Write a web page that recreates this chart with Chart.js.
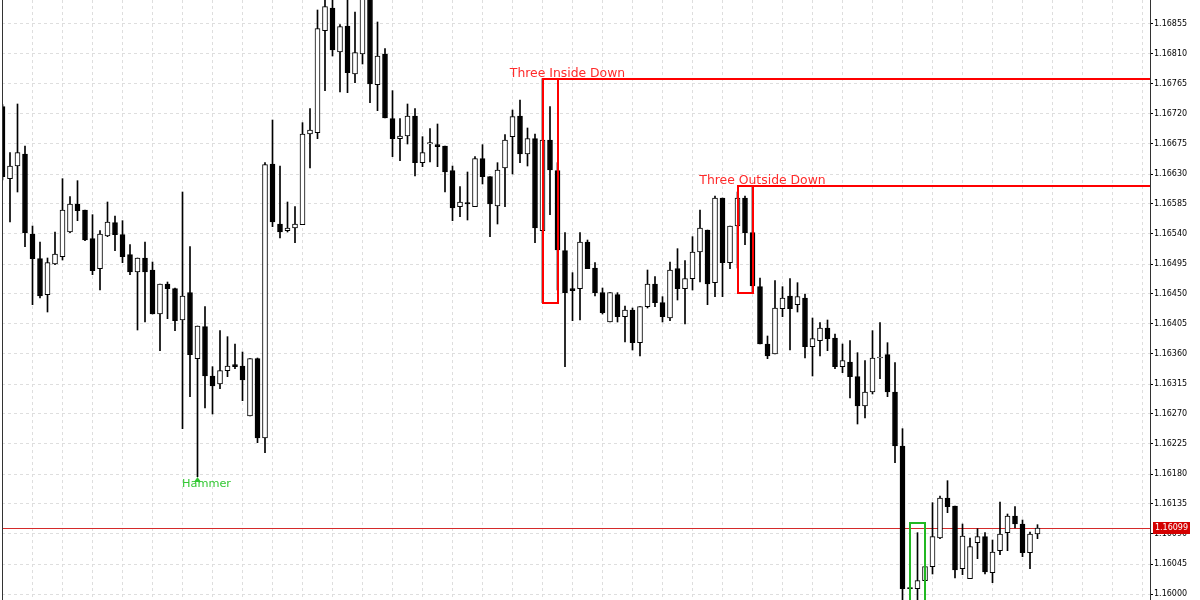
<!DOCTYPE html>
<html>
<head>
<meta charset="utf-8">
<title>EURUSD candles</title>
<script src="https://cdn.jsdelivr.net/npm/chart.js@4.4.0/dist/chart.umd.min.js"></script>
<style>
  body { margin: 0; background: #fff; }
  canvas { display: block; }
</style>
</head>
<body>
<canvas id="chart" width="1200" height="600"></canvas>
<script>
// OHLC per bar, oldest first
const opens = [
  1.16731, 1.16623, 1.16642, 1.16660, 1.16540, 1.16503, 1.16449, 1.16495, 1.16506, 1.16543,
  1.16585, 1.16576, 1.16533, 1.16488, 1.16537, 1.16557, 1.16539, 1.16509, 1.16483, 1.16504,
  1.16486, 1.16420, 1.16465, 1.16458, 1.16411, 1.16452, 1.16353, 1.16401, 1.16327, 1.16315,
  1.16335, 1.16344, 1.16342, 1.16267, 1.16353, 1.16234, 1.16645, 1.16555, 1.16545, 1.16549,
  1.16554, 1.16690, 1.16692, 1.16845, 1.16879, 1.16813, 1.16852, 1.16780, 1.16810, 1.16893,
  1.16764, 1.16810, 1.16713, 1.16683, 1.16687, 1.16717, 1.16647, 1.16675, 1.16674, 1.16672,
  1.16635, 1.16581, 1.16587, 1.16581, 1.16653, 1.16626, 1.16582, 1.16639, 1.16686, 1.16717,
  1.16660, 1.16683, 1.16545, 1.16681, 1.16635, 1.16515, 1.16458, 1.16458, 1.16528, 1.16489,
  1.16452, 1.16408, 1.16449, 1.16416, 1.16426, 1.16377, 1.16431, 1.16465, 1.16437, 1.16414,
  1.16488, 1.16458, 1.16473, 1.16513, 1.16546, 1.16467, 1.16594, 1.16497, 1.16552, 1.16594,
  1.16542, 1.16461, 1.16375, 1.16360, 1.16428, 1.16447, 1.16434, 1.16444, 1.16371, 1.16380,
  1.16399, 1.16384, 1.16341, 1.16348, 1.16326, 1.16282, 1.16303, 1.16354, 1.16359, 1.16303,
  1.16222, 1.16009, 1.16008, 1.16020, 1.16041, 1.16084, 1.16144, 1.16132, 1.16038, 1.16023,
  1.16077, 1.16086, 1.16032, 1.16065, 1.16092, 1.16117, 1.16105, 1.16062, 1.16090
];
const highs = [
  1.16734, 1.16662, 1.16735, 1.16672, 1.16552, 1.16528, 1.16504, 1.16543, 1.16623, 1.16596,
  1.16620, 1.16576, 1.16569, 1.16545, 1.16588, 1.16567, 1.16560, 1.16524, 1.16504, 1.16528,
  1.16498, 1.16465, 1.16468, 1.16459, 1.16603, 1.16521, 1.16402, 1.16431, 1.16341, 1.16395,
  1.16386, 1.16375, 1.16363, 1.16353, 1.16354, 1.16647, 1.16711, 1.16642, 1.16588, 1.16581,
  1.16707, 1.16728, 1.16876, 1.16896, 1.16896, 1.16854, 1.16896, 1.16873, 1.16900, 1.16900,
  1.16858, 1.16818, 1.16755, 1.16713, 1.16735, 1.16728, 1.16686, 1.16698, 1.16705, 1.16672,
  1.16642, 1.16611, 1.16633, 1.16656, 1.16674, 1.16626, 1.16647, 1.16689, 1.16726, 1.16741,
  1.16699, 1.16690, 1.16773, 1.16731, 1.16647, 1.16542, 1.16482, 1.16542, 1.16531, 1.16497,
  1.16459, 1.16452, 1.16452, 1.16432, 1.16429, 1.16431, 1.16486, 1.16476, 1.16446, 1.16498,
  1.16518, 1.16500, 1.16536, 1.16576, 1.16546, 1.16597, 1.16594, 1.16552, 1.16603, 1.16597,
  1.16612, 1.16474, 1.16387, 1.16470, 1.16461, 1.16473, 1.16467, 1.16450, 1.16414, 1.16407,
  1.16411, 1.16390, 1.16375, 1.16380, 1.16362, 1.16350, 1.16395, 1.16407, 1.16377, 1.16347,
  1.16248, 1.16107, 1.16092, 1.16048, 1.16137, 1.16147, 1.16170, 1.16132, 1.16105, 1.16084,
  1.16098, 1.16092, 1.16081, 1.16138, 1.16120, 1.16131, 1.16111, 1.16093, 1.16104
];
const lows = [
  1.16621, 1.16558, 1.16603, 1.16521, 1.16434, 1.16444, 1.16423, 1.16494, 1.16501, 1.16542,
  1.16560, 1.16530, 1.16479, 1.16456, 1.16536, 1.16515, 1.16497, 1.16479, 1.16396, 1.16408,
  1.16420, 1.16365, 1.16413, 1.16395, 1.16248, 1.16296, 1.16176, 1.16279, 1.16270, 1.16308,
  1.16326, 1.16338, 1.16290, 1.16267, 1.16227, 1.16212, 1.16551, 1.16534, 1.16543, 1.16527,
  1.16554, 1.16639, 1.16683, 1.16755, 1.16807, 1.16753, 1.16752, 1.16767, 1.16795, 1.16737,
  1.16725, 1.16714, 1.16656, 1.16650, 1.16675, 1.16627, 1.16641, 1.16648, 1.16641, 1.16603,
  1.16560, 1.16566, 1.16561, 1.16581, 1.16615, 1.16536, 1.16555, 1.16581, 1.16630, 1.16647,
  1.16642, 1.16527, 1.16437, 1.16569, 1.16456, 1.16341, 1.16410, 1.16411, 1.16488, 1.16447,
  1.16420, 1.16408, 1.16408, 1.16378, 1.16366, 1.16357, 1.16429, 1.16431, 1.16408, 1.16410,
  1.16441, 1.16405, 1.16456, 1.16468, 1.16434, 1.16446, 1.16446, 1.16488, 1.16489, 1.16524,
  1.16452, 1.16375, 1.16353, 1.16360, 1.16416, 1.16366, 1.16423, 1.16354, 1.16327, 1.16357,
  1.16365, 1.16338, 1.16332, 1.16294, 1.16255, 1.16264, 1.16300, 1.16323, 1.16296, 1.16197,
  1.15976, 1.15973, 1.15976, 1.15979, 1.16030, 1.16083, 1.16122, 1.16024, 1.16029, 1.16023,
  1.16053, 1.16030, 1.16017, 1.16059, 1.16065, 1.16099, 1.16056, 1.16038, 1.16083
];
const closes = [
  1.16626, 1.16642, 1.16662, 1.16542, 1.16503, 1.16447, 1.16497, 1.16510, 1.16576, 1.16585,
  1.16575, 1.16531, 1.16485, 1.16540, 1.16558, 1.16539, 1.16506, 1.16483, 1.16504, 1.16483,
  1.16420, 1.16465, 1.16458, 1.16410, 1.16447, 1.16359, 1.16402, 1.16327, 1.16312, 1.16335,
  1.16342, 1.16341, 1.16321, 1.16353, 1.16234, 1.16644, 1.16558, 1.16543, 1.16549, 1.16555,
  1.16690, 1.16696, 1.16848, 1.16881, 1.16816, 1.16851, 1.16782, 1.16812, 1.16893, 1.16765,
  1.16807, 1.16714, 1.16683, 1.16687, 1.16717, 1.16647, 1.16662, 1.16677, 1.16671, 1.16633,
  1.16579, 1.16588, 1.16585, 1.16653, 1.16626, 1.16585, 1.16636, 1.16681, 1.16716, 1.16660,
  1.16683, 1.16549, 1.16681, 1.16636, 1.16516, 1.16452, 1.16455, 1.16528, 1.16488, 1.16452,
  1.16422, 1.16452, 1.16416, 1.16426, 1.16377, 1.16431, 1.16465, 1.16437, 1.16416, 1.16486,
  1.16458, 1.16473, 1.16513, 1.16549, 1.16465, 1.16594, 1.16497, 1.16552, 1.16594, 1.16542,
  1.16462, 1.16375, 1.16357, 1.16429, 1.16444, 1.16428, 1.16446, 1.16371, 1.16383, 1.16399,
  1.16383, 1.16341, 1.16350, 1.16326, 1.16282, 1.16303, 1.16354, 1.16354, 1.16303, 1.16222,
  1.16008, 1.16008, 1.16020, 1.16041, 1.16086, 1.16144, 1.16131, 1.16036, 1.16087, 1.16071,
  1.16086, 1.16033, 1.16063, 1.16090, 1.16117, 1.16105, 1.16062, 1.16090, 1.16099
];

// price scale labels on the right
const priceTicks = [
  1.16000, 1.16045, 1.16090, 1.16135, 1.16180, 1.16225, 1.16270, 1.16315, 1.16360, 1.16405,
  1.16450, 1.16495, 1.16540, 1.16585, 1.16630, 1.16675, 1.16720, 1.16765, 1.16810, 1.16855
];
const lastPrice = 1.16099;

// candle pattern marks: first bar, last bar, label
const patternNames = ['Three Inside Down', 'Three Outside Down', ''];
const patternStart = [72, 98, 121];
const patternEnd = [74, 100, 123];
const patternBearish = [true, true, false];
const hammerBars = [26];
const hammerLabel = 'Hammer';

const bars = opens.map((o, i) => i);
const gridBars = bars.filter(i => i % 4 === 0).concat([140, 144, 148, 152]);

const bodies = bars.map(i => ({ x: i, y: [opens[i], closes[i]] }));
const wicks = bars.map(i => ({ x: i, y: [lows[i], highs[i]] }));
const bodyFill = bars.map(i => closes[i] >= opens[i] ? '#ffffff' : '#000000');

const marks = {
  id: 'marks',
  beforeDatasetsDraw(chart) {
    const { ctx, chartArea: a, scales: { y } } = chart;
    const py = Math.round(y.getPixelForValue(lastPrice)) + 0.5;
    ctx.save();
    ctx.strokeStyle = '#d42a2a';
    ctx.lineWidth = 1;
    ctx.beginPath();
    ctx.moveTo(a.left, py);
    ctx.lineTo(a.right, py);
    ctx.stroke();
    ctx.restore();
  },
  afterDatasetsDraw(chart) {
    const { ctx, chartArea: a, scales: { x, y } } = chart;
    ctx.save();
    ctx.beginPath();
    ctx.rect(a.left, a.top, a.right - a.left, a.bottom - a.top);
    ctx.clip();

    patternNames.forEach((name, k) => {
      const s = patternStart[k], e = patternEnd[k];
      const hi = Math.max(...highs.slice(s, e + 1));
      const lo = Math.min(...lows.slice(s, e + 1));
      const x1 = Math.round(x.getPixelForValue(s));
      const x2 = Math.round(x.getPixelForValue(e));
      const y1 = Math.round(y.getPixelForValue(hi));
      const y2 = Math.round(y.getPixelForValue(lo));
      const col = patternBearish[k] ? '#ff0000' : '#22b822';
      ctx.strokeStyle = col;
      ctx.lineWidth = 2;
      ctx.strokeRect(x1, y1, x2 - x1, y2 - y1);
      if (patternBearish[k]) {
        ctx.beginPath();
        ctx.moveTo(x2, y1);
        ctx.lineTo(a.right, y1);
        ctx.stroke();
      }
      if (name) {
        ctx.fillStyle = '#ff2a2a';
        ctx.font = '12.4px "DejaVu Sans"';
        ctx.textAlign = 'center';
        ctx.textBaseline = 'alphabetic';
        ctx.fillText(name, (x1 + x2) / 2 + 17, y1 - 2);
      }
    });

    hammerBars.forEach(i => {
      const hx = x.getPixelForValue(i);
      const hy = Math.round(y.getPixelForValue(lows[i]));
      ctx.fillStyle = '#33c833';
      ctx.beginPath();
      ctx.moveTo(hx, hy);
      ctx.lineTo(hx - 3.5, hy + 5);
      ctx.lineTo(hx + 3.5, hy + 5);
      ctx.closePath();
      ctx.fill();
      ctx.font = '11.3px "DejaVu Sans"';
      ctx.textAlign = 'center';
      ctx.textBaseline = 'alphabetic';
      ctx.fillText(hammerLabel, hx + 9, hy + 10);
    });
    ctx.restore();
  },
  afterDraw(chart) {
    const { ctx, chartArea: a, scales: { y } } = chart;
    ctx.save();
    ctx.fillStyle = '#333';
    ctx.fillRect(a.left, 0, 1, chart.height);
    ctx.fillRect(a.right, 0, 1, chart.height);

    // current price tag
    const py = Math.round(y.getPixelForValue(lastPrice));
    ctx.fillStyle = '#d40000';
    ctx.fillRect(a.right + 3, py - 6, 37, 12);
    ctx.fillStyle = '#fff';
    ctx.font = '8px "DejaVu Sans"';
    ctx.textAlign = 'center';
    ctx.textBaseline = 'middle';
    ctx.fillText(lastPrice.toFixed(5), a.right + 21.5, py);
    ctx.restore();
  }
};

new Chart(document.getElementById('chart').getContext('2d'), {
  type: 'bar',
  data: {
    datasets: [
      {
        label: 'body',
        data: bodies,
        backgroundColor: bodyFill,
        borderColor: '#000',
        borderWidth: 1,
        borderSkipped: false,
        barThickness: 5,
        minBarLength: 1,
        grouped: false,
        order: 0
      },
      {
        label: 'wick',
        data: wicks,
        backgroundColor: '#000',
        borderWidth: 0,
        barThickness: 1,
        grouped: false,
        order: 1
      }
    ]
  },
  options: {
    responsive: false,
    animation: false,
    events: [],
    layout: { padding: { left: 2, right: 0, top: 0, bottom: 0 } },
    plugins: { legend: { display: false }, tooltip: { enabled: false } },
    scales: {
      x: {
        type: 'linear',
        min: -0.0667,
        max: 153,
        offset: false,
        grid: { color: '#dedede', offset: false, drawTicks: false },
        border: { display: false, dash: [3, 3] },
        ticks: { display: false },
        afterBuildTicks: s => { s.ticks = gridBars.map(v => ({ value: v })); },
        afterFit: s => { s.height = 0; s.paddingLeft = 0; s.paddingRight = 0; }
      },
      y: {
        type: 'linear',
        position: 'right',
        min: 1.15991,
        max: 1.16891,
        grid: { color: '#dedede', drawTicks: true, tickLength: 3, tickColor: '#000', tickBorderDash: [] },
        border: { display: false, dash: [3, 3] },
        ticks: {
          color: '#000',
          font: { family: 'DejaVu Sans', size: 8 },
          padding: 1,
          autoSkip: false,
          callback: v => v.toFixed(5)
        },
        afterBuildTicks: s => { s.ticks = priceTicks.map(v => ({ value: v })); },
        afterFit: s => { s.width = 50; s.paddingTop = 0; s.paddingBottom = 0; }
      }
    }
  },
  plugins: [marks]
});
</script>
</body>
</html>
